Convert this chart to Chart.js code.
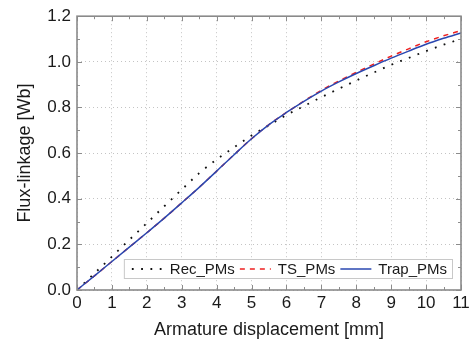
<!DOCTYPE html>
<html>
<head>
<meta charset="utf-8">
<script src="https://cdn.jsdelivr.net/npm/chart.js@4.4.0/dist/chart.umd.min.js"></script>
<style>
  html, body { margin: 0; padding: 0; background: #fff; }
  #wrap { width: 476px; height: 341px; }
</style>
</head>
<body>
<div id="wrap"><canvas id="flux-chart"></canvas></div>
<script>
// armature displacement [mm]
const displacement = [0, 0.5, 1, 1.5, 2, 2.5, 3, 3.5, 4, 4.5, 5, 5.5, 6, 6.5, 7, 7.5, 8, 8.5, 9, 9.5, 10, 10.5, 11];

// flux-linkage [Wb]
const recPMs = [0, 0.073, 0.146, 0.22, 0.293, 0.367, 0.44, 0.512, 0.572, 0.625, 0.677, 0.722, 0.767,
    0.806, 0.845, 0.882, 0.918, 0.953, 0.987, 1.017, 1.047, 1.075, 1.10];
const tsPMs = [0, 0.062, 0.125, 0.188, 0.251, 0.315, 0.382, 0.45, 0.521, 0.593, 0.663, 0.725, 0.778,
    0.828, 0.875, 0.916, 0.954, 0.99, 1.025, 1.057, 1.088, 1.114, 1.137];
const trapPMs = [0, 0.062, 0.125, 0.188, 0.251, 0.315, 0.382, 0.45, 0.521, 0.593, 0.663, 0.725, 0.778,
    0.827, 0.872, 0.912, 0.949, 0.983, 1.016, 1.047, 1.077, 1.103, 1.127];

const xTicks = [0, 1, 2, 3, 4, 5, 6, 7, 8, 9, 10, 11];
const yTicks = [0, 0.2, 0.4, 0.6, 0.8, 1.0, 1.2];

const FONT = 'Liberation Sans, Arial, sans-serif';

function toPoints(xs, ys) {
    return xs.map((x, i) => ({ x: x, y: ys[i] }));
}

// frame with inward major/minor ticks on all four sides
const framePlugin = {
    id: 'frame',
    afterDatasetsDraw(chart) {
        const ctx = chart.ctx;
        const a = chart.chartArea;
        const xs = chart.scales.x;
        const ys = chart.scales.y;
        ctx.save();
        ctx.strokeStyle = '#8c8c8c';
        ctx.lineWidth = 1;
        ctx.beginPath();
        for (let v = 0; v <= 11.001; v += 0.5) {
            const px = Math.round(xs.getPixelForValue(v)) + 0.5;
            const len = Math.abs(v - Math.round(v)) < 1e-6 ? 5 : 3;
            ctx.moveTo(px, a.bottom); ctx.lineTo(px, a.bottom - len);
            ctx.moveTo(px, a.top); ctx.lineTo(px, a.top + len);
        }
        for (let v = 0; v <= 1.2001; v += 0.1) {
            const py = Math.round(ys.getPixelForValue(v)) + 0.5;
            const major = Math.abs(v * 5 - Math.round(v * 5)) < 1e-6;
            const len = major ? 5 : 3;
            ctx.moveTo(a.left, py); ctx.lineTo(a.left + len, py);
            ctx.moveTo(a.right, py); ctx.lineTo(a.right - len, py);
        }
        ctx.stroke();
        ctx.lineWidth = 1.6;
        ctx.strokeStyle = '#8a8a8a';
        ctx.strokeRect(a.left, a.top, a.right - a.left, a.bottom - a.top);
        ctx.restore();
    }
};

// legend box drawn inside the plot area, bottom right
const insideLegend = {
    id: 'insideLegend',
    afterDraw(chart) {
        const ctx = chart.ctx;
        const a = chart.chartArea;
        ctx.save();
        ctx.font = '15px ' + FONT;
        const sample = 31, gapA = 7, gapB = 5;
        const sets = chart.data.datasets;
        let total = 8;
        sets.forEach(ds => { total += sample + gapA + ctx.measureText(ds.label).width + gapB; });
        const right = a.right - 9, bottom = a.bottom - 12, h = 19;
        const left = right - total, top = bottom - h;
        ctx.fillStyle = '#fff';
        ctx.fillRect(left, top, total, h);
        ctx.strokeStyle = '#c8c8c8';
        ctx.lineWidth = 1;
        ctx.strokeRect(left + 0.5, top + 0.5, total, h);
        let x = left + 8;
        const cy = top + h / 2 + 0.5;
        sets.forEach(ds => {
            ctx.beginPath();
            ctx.strokeStyle = ds.borderColor;
            ctx.lineWidth = ds.borderWidth;
            ctx.setLineDash(ds.borderDash || []);
            ctx.moveTo(x, cy); ctx.lineTo(x + sample, cy);
            ctx.stroke();
            ctx.setLineDash([]);
            x += sample + gapA;
            ctx.fillStyle = '#1a1a1a';
            ctx.textBaseline = 'middle';
            ctx.fillText(ds.label, x, cy + 1);
            x += ctx.measureText(ds.label).width + gapB;
        });
        ctx.restore();
    }
};

const ctx = document.getElementById('flux-chart').getContext('2d');
new Chart(ctx, {
    type: 'line',
    data: {
        datasets: [
            {
                label: 'Rec_PMs',
                data: toPoints(displacement, recPMs),
                borderColor: '#111111',
                borderWidth: 1.8,
                borderDash: [1.8, 7.5],
                pointRadius: 0,
                cubicInterpolationMode: 'monotone',
                order: 2
            },
            {
                label: 'TS_PMs',
                data: toPoints(displacement, tsPMs),
                borderColor: '#ee2020',
                borderWidth: 1.5,
                borderDash: [5, 5],
                pointRadius: 0,
                cubicInterpolationMode: 'monotone',
                order: 1
            },
            {
                label: 'Trap_PMs',
                data: toPoints(displacement, trapPMs),
                borderColor: '#2a47b0',
                borderWidth: 1.5,
                pointRadius: 0,
                cubicInterpolationMode: 'monotone',
                order: 0
            }
        ]
    },
    options: {
        responsive: true,
        maintainAspectRatio: false,
        animation: false,
        events: [],
        layout: {
            padding: { left: 0, right: 15, top: 16, bottom: 0 }
        },
        plugins: {
            legend: { display: false },
            tooltip: { enabled: false }
        },
        scales: {
            x: {
                type: 'linear',
                min: 0,
                max: 11,
                afterBuildTicks(scale) {
                    scale.ticks = xTicks.map(v => ({ value: v }));
                },
                afterFit(scale) { scale.height = 51; },
                border: { display: false, dash: [1, 3] },
                grid: {
                    color: '#c4c4c4',
                    lineWidth: 1,
                    drawTicks: false
                },
                ticks: {
                    color: '#1a1a1a',
                    padding: 3,
                    maxRotation: 0,
                    font: { family: FONT, size: 17 }
                },
                title: {
                    display: true,
                    text: 'Armature displacement [mm]',
                    color: '#1a1a1a',
                    padding: { top: 2, bottom: 0 },
                    font: { family: FONT, size: 18 }
                }
            },
            y: {
                type: 'linear',
                min: 0,
                max: 1.2,
                afterBuildTicks(scale) {
                    scale.ticks = yTicks.map(v => ({ value: v }));
                },
                afterFit(scale) { scale.width = 77; },
                border: { display: false, dash: [1, 3] },
                grid: {
                    color: '#c4c4c4',
                    lineWidth: 1,
                    drawTicks: false
                },
                ticks: {
                    color: '#1a1a1a',
                    padding: 6,
                    font: { family: FONT, size: 17 },
                    callback: v => v.toFixed(1)
                },
                title: {
                    display: true,
                    text: 'Flux-linkage [Wb]',
                    color: '#1a1a1a',
                    padding: { top: 14, bottom: 4 },
                    font: { family: FONT, size: 18 }
                }
            }
        }
    },
    plugins: [framePlugin, insideLegend]
});
</script>
</body>
</html>
